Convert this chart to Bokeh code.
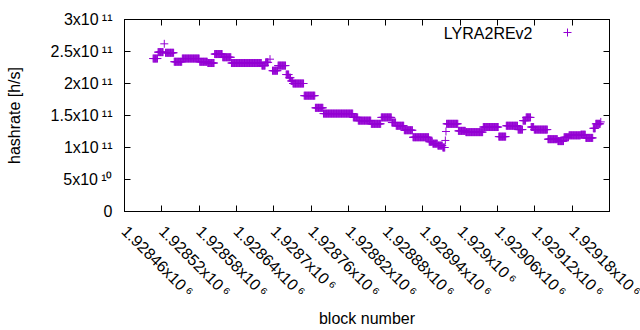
import math
from bokeh.plotting import figure
from bokeh.models import (Range1d, FixedTicker, CustomJSTickFormatter, LinearAxis,
                          Legend, LegendItem, Label, ColumnDataSource)
from bokeh.core.properties import value
from bokeh.embed import file_html
from bokeh.resources import INLINE

# runs of consecutive blocks sharing one hashrate value (first block, last block, rate in 1e11 h/s)
run_first = [1928506, 1928514, 1928524, 1928526, 1928540, 1928553, 1928581, 1928594, 1928605, 1928618,
             1928632, 1928681, 1928687, 1928694, 1928698, 1928707, 1928720, 1928725, 1928728, 1928731,
             1928749, 1928767, 1928780, 1928828, 1928836, 1928857, 1928873, 1928890, 1928897, 1928910,
             1928924, 1928950, 1928956, 1928964, 1928972, 1928976, 1928977, 1928978, 1928997, 1929009,
             1929037, 1929062, 1929074, 1929093, 1929101, 1929106, 1929114, 1929119, 1929141, 1929157,
             1929167, 1929175, 1929194, 1929202, 1929214, 1929218, 1929226]
run_last = [1928513, 1928522, 1928524, 1928539, 1928552, 1928580, 1928593, 1928604, 1928617, 1928631,
            1928680, 1928686, 1928691, 1928694, 1928706, 1928719, 1928724, 1928727, 1928730, 1928748,
            1928766, 1928779, 1928827, 1928835, 1928856, 1928872, 1928889, 1928896, 1928909, 1928923,
            1928949, 1928955, 1928963, 1928971, 1928975, 1928976, 1928977, 1928996, 1929008, 1929036,
            1929061, 1929073, 1929092, 1929100, 1929105, 1929113, 1929118, 1929140, 1929156, 1929166,
            1929174, 1929193, 1929201, 1929213, 1929217, 1929225, 1929226]
run_rate = [2.39, 2.49, 2.62, 2.48, 2.34, 2.39, 2.34, 2.32, 2.46, 2.41,
            2.32, 2.28, 2.33, 2.38, 2.20, 2.28, 2.14, 2.09, 2.04, 2.00,
            1.81, 1.62, 1.53, 1.47, 1.42, 1.37, 1.47, 1.39, 1.34, 1.27,
            1.16, 1.09, 1.06, 1.03, 1.00, 1.11, 1.25, 1.37, 1.26, 1.24,
            1.32, 1.17, 1.34, 1.28, 1.42, 1.47, 1.32, 1.28, 1.13, 1.10,
            1.16, 1.19, 1.20, 1.15, 1.30, 1.37, 1.40]

x_ticks = [1928460, 1928520, 1928580, 1928640, 1928700, 1928760, 1928820, 1928880,
           1928940, 1929000, 1929060, 1929120, 1929180, 1929240]
y_ticks = [0, 5e10, 1e11, 1.5e11, 2e11, 2.5e11, 3e11]

series_name = "LYRA2REv2"
COLOR = "#9400d3"
FONT = "Liberation Sans"
FS = "16px"

blocks, rates = [], []
for a, b, r in zip(run_first, run_last, run_rate):
    for blk in range(a, b + 1):
        blocks.append(blk)
        rates.append(r * 1e11)
src = ColumnDataSource(dict(block=blocks, hashrate=rates))

p = figure(frame_width=485, frame_height=192, output_backend="svg", toolbar_location=None,
           x_range=Range1d(x_ticks[0], x_ticks[-1]), y_range=Range1d(y_ticks[0], y_ticks[-1]),
           min_border_left=124, min_border_right=31, min_border_top=19, min_border_bottom=119,
           x_axis_label="block number", y_axis_label="hashrate [h/s]")
p.xgrid.visible = False
p.ygrid.visible = False
p.outline_line_color = "black"
p.outline_line_width = 1
p.background_fill_color = "white"
p.border_fill_color = "white"

# gnuplot-like "MxE" labels with a raised exponent; the label of the tick on the
# right border lies past the picture's edge in the original, so it is left out
fmt_code = """
const sup = {"0":"\u2070","1":"\u00b9","2":"\u00b2","3":"\u00b3","4":"\u2074","5":"\u2075","6":"\u2076","7":"\u2077","8":"\u2078","9":"\u2079"};
if (tick == 0) return "0";
if (hide_from !== null && tick >= hide_from) return "";
const e = Math.floor(Math.log10(Math.abs(tick)) + 1e-9);
const m = parseFloat((tick / Math.pow(10, e)).toPrecision(8));
return m + "x10\u2009" + String(e).split("").map(c => sup[c]).join("");
"""
blank = CustomJSTickFormatter(code='return "";')

for ax in (p.xaxis[0], p.yaxis[0]):
    ax.major_tick_in = 6
    ax.major_tick_out = 0
    ax.minor_tick_line_color = None
    ax.axis_line_color = "black"
    ax.major_tick_line_color = "black"
    ax.major_label_text_font = FONT
    ax.major_label_text_font_size = FS
    ax.major_label_text_color = "black"
    ax.axis_label_text_font = FONT
    ax.axis_label_text_font_size = FS
    ax.axis_label_text_font_style = "normal"
    ax.axis_label_text_color = "black"

p.xaxis[0].formatter = CustomJSTickFormatter(code=fmt_code, args=dict(hide_from=x_ticks[-1]))
p.yaxis[0].formatter = CustomJSTickFormatter(code=fmt_code, args=dict(hide_from=None))
p.xaxis[0].ticker = FixedTicker(ticks=x_ticks)
p.yaxis[0].ticker = FixedTicker(ticks=y_ticks)
p.xaxis[0].major_label_orientation = -math.pi / 4
p.xaxis[0].major_label_standoff = 17
p.yaxis[0].major_label_standoff = 12
p.xaxis[0].axis_label_standoff = 0
p.yaxis[0].axis_label_standoff = 25

# mirrored ticks on top and right border
for side, ticks in (("above", x_ticks), ("right", y_ticks)):
    ax = LinearAxis(ticker=FixedTicker(ticks=ticks), major_tick_in=6, major_tick_out=0,
                    minor_tick_line_color=None, formatter=blank,
                    major_label_standoff=0, axis_line_color="black")
    p.add_layout(ax, side)

r = p.scatter("block", "hashrate", source=src, marker="cross", size=8,
              line_color=COLOR, line_width=1)

legend = Legend(items=[LegendItem(label=value(" "), renderers=[r])], location=(433, 169),
                padding=0, margin=0, spacing=0, glyph_width=20, glyph_height=20,
                label_standoff=0, border_line_color=None, background_fill_alpha=0,
                label_text_font_size="2px")
p.add_layout(legend)
p.add_layout(Label(x=408, y=178.5, x_units="screen", y_units="screen", text=series_name,
                   text_align="right", text_baseline="middle", text_font=FONT,
                   text_font_size=FS, text_color="black"))

open("out.html", "w").write(file_html(p, INLINE))
